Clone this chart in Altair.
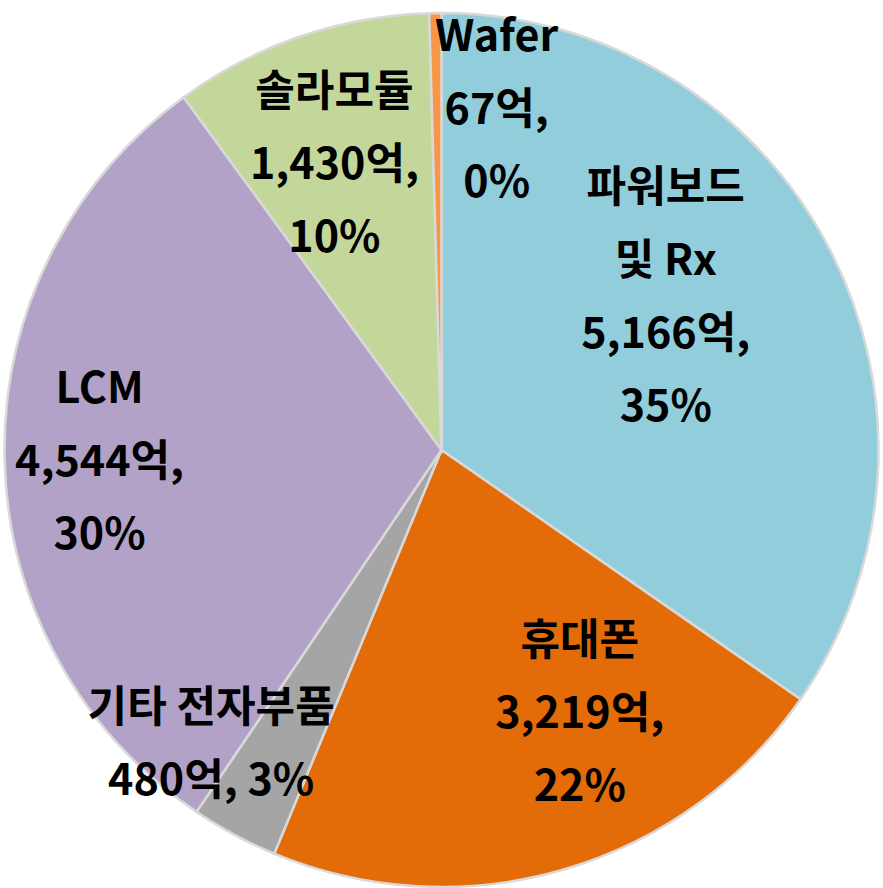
import altair as alt
import pandas as pd

categories = ["파워보드 및 Rx", "휴대폰", "기타 전자부품", "LCM", "솔라모듈", "Wafer"]
values = [5166, 3219, 480, 4544, 1430, 67]
labels = [
    "파워보드\n및  Rx\n5,166억,\n35%",
    "휴대폰\n3,219억,\n22%",
    "기타 전자부품\n480억, 3%",
    "LCM\n4,544억,\n30%",
    "솔라모듈\n1,430억,\n10%",
    "Wafer\n67억,\n0%",
]
colors = ["#92CDDC", "#E36C09", "#A5A5A5", "#B3A2C7", "#C4D79B", "#F79646"]

df = pd.DataFrame({
    "cat": categories,
    "value": values,
    "label": labels,
    "order": list(range(len(categories))),
})

base = alt.Chart(df).encode(
    theta=alt.Theta("value:Q", stack=True),
    order=alt.Order("order:Q"),
)

pie = base.mark_arc(outerRadius=437, stroke="#D9D9D9", strokeWidth=2.5).encode(
    color=alt.Color("cat:N", scale=alt.Scale(domain=categories, range=colors), legend=None)
)

# per-label placement (radius, dx, dy)
place = {
    "파워보드 및 Rx": (270, -15, -136),
    "휴대폰": (299, 54, -95),
    "기타 전자부품": (374, -53, -70),
    "LCM": (342, 0, -66),
    "솔라모듈": (303, -9, -70),
    "Wafer": (343, 60, -69),
}

layers = [pie]
for cat in categories:
    r, dx, dy = place[cat]
    t = base.transform_calculate(
        shown=f"datum.cat == '{cat}' ? datum.label : ''"
    ).mark_text(
        radius=r, dx=dx, dy=dy, font="Noto Sans CJK KR", fontSize=43,
        fontWeight="bold", color="#000000", lineBreak="\n", lineHeight=73,
        align="center", baseline="middle",
    ).encode(text="shown:N")
    layers.append(t)

chart = alt.layer(*layers).properties(
    width=883, height=876,
    padding={"top": 12, "bottom": 0, "left": 0, "right": 0},
    autosize=alt.AutoSizeParams(type="none"),
    background="white",
).configure_view(stroke=None)

chart.save("out.html", embed_options={"renderer": "svg", "actions": False})
